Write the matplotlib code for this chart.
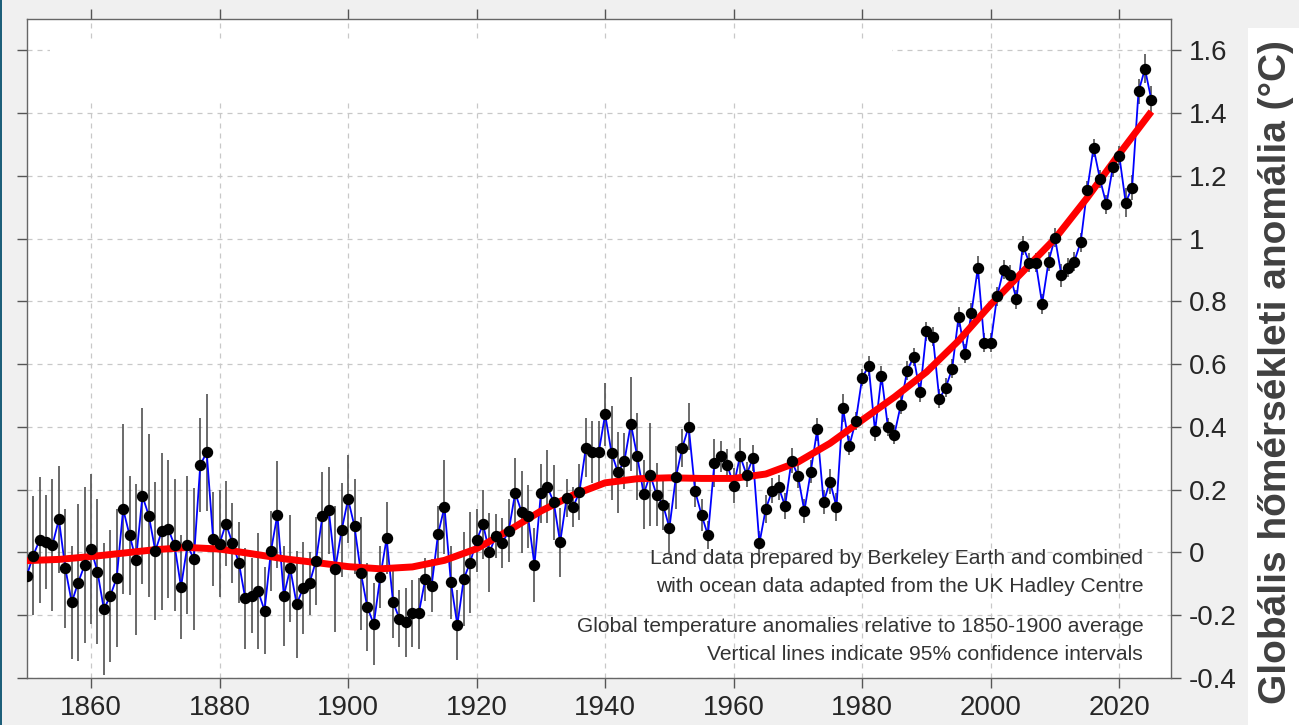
import matplotlib
matplotlib.use("Agg")
import matplotlib.pyplot as plt
from matplotlib import font_manager
from matplotlib.patches import Rectangle

# adatok: éves anomália (°C), 95%-os hibahatár, simított görbe
years = list(range(1850, 2026))
anomaly = [
    -0.074, -0.010, 0.040, 0.034, 0.024, 0.106, -0.051, -0.159, -0.096, -0.040,
    0.011, -0.061, -0.181, -0.138, -0.081, 0.138, 0.055, -0.023, 0.180, 0.117,
    0.005, 0.067, 0.076, 0.023, -0.110, 0.023, -0.021, 0.279, 0.319, 0.043,
    0.028, 0.092, 0.030, -0.032, -0.146, -0.138, -0.123, -0.185, 0.005, 0.121,
    -0.138, -0.051, -0.165, -0.113, -0.098, -0.027, 0.115, 0.134, -0.052, 0.071,
    0.170, 0.083, -0.066, -0.175, -0.228, -0.078, 0.045, -0.159, -0.211, -0.222,
    -0.194, -0.194, -0.086, -0.106, 0.059, 0.145, -0.095, -0.231, -0.084, -0.032,
    0.039, 0.090, 0.000, 0.054, 0.030, 0.069, 0.190, 0.129, 0.115, -0.040,
    0.188, 0.210, 0.160, 0.032, 0.173, 0.144, 0.193, 0.334, 0.320, 0.319,
    0.440, 0.317, 0.255, 0.292, 0.410, 0.306, 0.186, 0.248, 0.184, 0.152,
    0.079, 0.239, 0.334, 0.401, 0.196, 0.120, 0.055, 0.285, 0.306, 0.280,
    0.213, 0.308, 0.248, 0.301, 0.029, 0.139, 0.197, 0.208, 0.148, 0.293,
    0.245, 0.132, 0.258, 0.392, 0.161, 0.226, 0.145, 0.461, 0.340, 0.419,
    0.557, 0.594, 0.386, 0.563, 0.400, 0.375, 0.470, 0.579, 0.623, 0.510,
    0.705, 0.687, 0.490, 0.525, 0.586, 0.751, 0.634, 0.764, 0.908, 0.668,
    0.668, 0.817, 0.901, 0.885, 0.807, 0.977, 0.924, 0.924, 0.793, 0.927,
    1.003, 0.883, 0.907, 0.927, 0.989, 1.154, 1.289, 1.190, 1.109, 1.228,
    1.265, 1.115, 1.163, 1.469, 1.541, 1.442,
]
uncert = [
    0.19, 0.19, 0.20, 0.15, 0.21, 0.17, 0.19, 0.18, 0.25, 0.25,
    0.24, 0.23, 0.21, 0.21, 0.22, 0.27, 0.19, 0.24, 0.28, 0.26,
    0.22, 0.25, 0.22, 0.21, 0.165, 0.22, 0.225, 0.15, 0.186, 0.15,
    0.17, 0.135, 0.127, 0.13, 0.16, 0.12, 0.185, 0.14, 0.127, 0.17,
    0.16, 0.17, 0.17, 0.147, 0.10, 0.14, 0.14, 0.14, 0.20, 0.15,
    0.14, 0.15, 0.18, 0.14, 0.13, 0.10, 0.115, 0.115, 0.09, 0.11,
    0.106, 0.114, 0.07, 0.085, 0.088, 0.15, 0.117, 0.112, 0.15, 0.16,
    0.10, 0.11, 0.127, 0.07, 0.08, 0.10, 0.11, 0.13, 0.10, 0.117,
    0.093, 0.117, 0.12, 0.11, 0.06, 0.064, 0.09, 0.093, 0.10, 0.10,
    0.10, 0.15, 0.128, 0.09, 0.15, 0.14, 0.11, 0.165, 0.10, 0.08,
    0.08, 0.10, 0.06, 0.075, 0.05, 0.05, 0.045, 0.077, 0.048, 0.05,
    0.055, 0.058, 0.04, 0.04, 0.04, 0.045, 0.04, 0.04, 0.04, 0.04,
    0.04, 0.037, 0.037, 0.037, 0.037, 0.04, 0.045, 0.045, 0.03, 0.03,
    0.027, 0.032, 0.03, 0.03, 0.03, 0.03, 0.03, 0.03, 0.03, 0.03,
    0.03, 0.03, 0.03, 0.03, 0.03, 0.032, 0.03, 0.03, 0.037, 0.03,
    0.03, 0.03, 0.03, 0.03, 0.03, 0.03, 0.03, 0.03, 0.032, 0.03,
    0.03, 0.037, 0.03, 0.03, 0.03, 0.03, 0.03, 0.03, 0.03, 0.03,
    0.03, 0.045, 0.04, 0.04, 0.046, 0.045,
]
smooth_years = list(range(1850, 2026, 5))
smooth_vals = [
    -0.026, -0.022, -0.013, -0.002, 0.009, 0.016, 0.011, -0.004, -0.020, -0.032,
    -0.045, -0.052, -0.046, -0.025, 0.012, 0.070, 0.132, 0.183, 0.222, 0.235,
    0.238, 0.236, 0.236, 0.250, 0.288, 0.348, 0.422, 0.495, 0.575, 0.675,
    0.790, 0.895, 1.000, 1.130, 1.270, 1.405,
]
xticks = [1860, 1880, 1900, 1920, 1940, 1960, 1980, 2000, 2020]
yticks = [-0.4, -0.2, 0, 0.2, 0.4, 0.6, 0.8, 1.0, 1.2, 1.4, 1.6]
ytick_labels = ["-0.4", "-0.2", "0", "0.2", "0.4", "0.6", "0.8", "1", "1.2", "1.4", "1.6"]

notes = [
    "Land data prepared by Berkeley Earth and combined\nwith ocean data adapted from the UK Hadley Centre",
    "Global temperature anomalies relative to 1850-1900 average\nVertical lines indicate 95% confidence intervals",
]
ylabel = "Globális hőmérsékleti anomália (°C)"

installed = {f.name for f in font_manager.fontManager.ttflist}
label_font = "Liberation Sans Narrow" if "Liberation Sans Narrow" in installed else "Liberation Sans"
plt.rcParams["font.family"] = ["Liberation Sans", "DejaVu Sans"]

fig = plt.figure(figsize=(12.99, 7.25), dpi=100, facecolor="#f0f0f0")
ax = fig.add_axes([0.0206, 0.0648, 0.8806, 0.909])
ax.set_facecolor("white")

# hibasávok
ax.vlines(years, [a - u for a, u in zip(anomaly, uncert)],
          [a + u for a, u in zip(anomaly, uncert)],
          color="#505050", lw=1.2, zorder=2)
ax.plot(years, anomaly, color="#0000ff", lw=1.3, zorder=3)
ax.plot(smooth_years, smooth_vals, color="#ff0000", lw=5, zorder=4,
        solid_capstyle="butt")
ax.plot(years, anomaly, "o", color="black", ms=7.2, zorder=5)

ax.set_xlim(1850, 2028)
ax.set_ylim(-0.4, 1.7)
ax.set_xticks(xticks)
ax.set_yticks(yticks)
ax.set_yticklabels(ytick_labels)
ax.grid(True, linestyle=(0, (4, 4)), color="#c8c8c8", lw=0.9, zorder=0)
ax.set_axisbelow(True)
ax.tick_params(direction="out", length=7, width=1, colors="#555555",
               labelcolor="#262626", labelsize=20,
               top=True, right=True, left=True, bottom=True,
               labelleft=False, labelright=True)
ax.tick_params(axis="y", pad=6)
ax.tick_params(axis="x", pad=5)
for s in ax.spines.values():
    s.set_color("#666666")
    s.set_linewidth(1)

# fehér takarás a bal felső sarokban
ax.add_patch(Rectangle((0.0204, 0.874), 0.736, 0.094, transform=ax.transAxes,
                       facecolor="white", edgecolor="none", zorder=1))

ax.text(0.976, 0.160, notes[0], transform=ax.transAxes, ha="right", va="center",
        fontsize=15.1, color="#333333", linespacing=1.62, zorder=6)
ax.text(0.976, 0.057, notes[1], transform=ax.transAxes, ha="right", va="center",
        fontsize=15.1, color="#333333", linespacing=1.62, zorder=6)

# jobb oldali tengelyfelirat fehér háttérrel
fig.patches.append(Rectangle((0.961, 0.0), 0.039, 0.962, transform=fig.transFigure,
                             facecolor="white", edgecolor="none", zorder=0))
fig.patches.append(Rectangle((0.0, 0.0), 0.0016, 1.0, transform=fig.transFigure,
                             facecolor="#1d5f7a", edgecolor="none", zorder=0))
fig.text(0.982, 0.487, ylabel, rotation=90, ha="center", va="center",
         fontsize=28, fontweight="bold", color="#404040", family=label_font)

fig.savefig("out.png", dpi=100, facecolor=fig.get_facecolor())
